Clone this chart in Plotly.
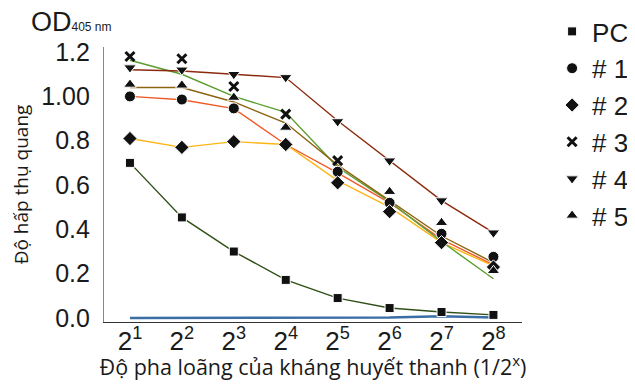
import plotly.graph_objects as go

dilution_x = [1, 2, 3, 4, 5, 6, 7, 8]
x_tick_text = ["2<sup>%d</sup>" % i for i in dilution_x]
y_tick_vals = [0.0, 0.2, 0.4, 0.6, 0.8, 1.0, 1.2]
y_tick_text = ["0.0", "0.2", "0.4", "0.6", "0.8", "1.00", "1.2"]

series_names = ["PC", "# 1", "# 2", "# 3", "# 4", "# 5"]

# line values (as drawn)
pc_line = [0.70, 0.454, 0.30, 0.172, 0.09, 0.045, 0.027, 0.014]
s1_line = [1.00, 0.985, 0.945, 0.783, 0.655, 0.52, 0.355, 0.24]
s2_line = [0.81, 0.77, 0.796, 0.783, 0.62, 0.50, 0.34, 0.235]
s3_line = [1.163, 1.10, 1.00, 0.928, 0.68, 0.525, 0.345, 0.177]
s4_line = [1.12, 1.115, 1.10, 1.085, 0.89, 0.71, 0.53, 0.385]
s5_line = [1.04, 1.04, 0.975, 0.88, 0.69, 0.53, 0.37, 0.25]
blank_line = [0.0, 0.0, 0.0, 0.0, 0.0, 0.002, 0.008, 0.002]

# marker values (as drawn)
pc_marks = [0.70, 0.454, 0.30, 0.172, 0.09, 0.045, 0.027, 0.014]
s1_marks = [1.00, 0.986, 0.946, 0.783, 0.66, 0.52, 0.38, 0.276]
s2_marks = [0.81, 0.77, 0.796, 0.783, 0.61, 0.48, 0.34, 0.23]
s3_marks = [1.18, 1.17, 1.045, 0.92, 0.71, None, None, None]
s4_marks = [1.13, 1.12, 1.10, 1.086, 0.887, 0.71, 0.53, 0.385]
s5_marks = [1.054, 1.05, 0.995, 0.86, None, 0.57, 0.43, 0.213]

line_sets = [pc_line, s1_line, s2_line, s3_line, s4_line, s5_line]
mark_sets = [pc_marks, s1_marks, s2_marks, s3_marks, s4_marks, s5_marks]
colors = ["#2f4f17", "#f05a28", "#fdb515", "#5a9e2f", "#8b2a0e", "#8c6410"]
symbols = ["square", "circle", "diamond", "x-thin-open", "triangle-down", "triangle-up"]
sizes = [9, 11, 11, 9, 11, 11]

fig = go.Figure()

fig.add_trace(go.Scatter(x=dilution_x, y=blank_line, mode="lines",
                         line=dict(color="#3a6ea5", width=2.5), showlegend=False,
                         hoverinfo="skip"))

for ln, col in zip(line_sets, colors):
    fig.add_trace(go.Scatter(x=dilution_x, y=ln, mode="lines",
                             line=dict(color=col, width=1.4), showlegend=False))

for i, (mk, name) in enumerate(zip(mark_sets, series_names)):
    if symbols[i] == "x-thin-open":
        marker = dict(symbol="x-thin-open", size=9, color="#111111",
                      line=dict(color="#111111", width=3))
    else:
        marker = dict(symbol=symbols[i], size=sizes[i], color="#111111",
                      line=dict(color="white", width=1))
    fig.add_trace(go.Scatter(x=dilution_x, y=mk, mode="markers", name=name,
                             marker=marker, cliponaxis=False,
                             legendgroup=name))

# page body has an 8px margin; size the figure so it fits the window exactly
fig.update_layout(
    width=619, height=373,
    margin=dict(l=96, r=105, t=39, b=59, autoexpand=False),
    plot_bgcolor="white", paper_bgcolor="white",
    font=dict(family="Liberation Sans, Arial, sans-serif", color="#1a1a1a"),
    legend=dict(xref="container", yref="container", x=0.879, y=1.02,
                xanchor="left", yanchor="top", maxheight=360,
                font=dict(size=26, color="#1a1a1a"),
                tracegroupgap=0, itemsizing="trace", itemwidth=30,
                bgcolor="rgba(0,0,0,0)"),
    xaxis=dict(range=[0.5, 8.55], tickmode="array", tickvals=dilution_x,
               ticktext=x_tick_text, showgrid=False, zeroline=False,
               showline=True, linecolor="#333333", linewidth=1.2,
               ticks="", tickfont=dict(size=26), ticklabelstandoff=-4,
               title=dict(text="Độ pha loãng của kháng huyết thanh (1/2<sup>x</sup>)",
                          font=dict(size=21.5, family="Open Sans, Liberation Sans, sans-serif"),
                          standoff=9)),
    yaxis=dict(range=[-0.018, 1.223], tickmode="array", tickvals=y_tick_vals,
               ticktext=y_tick_text, showgrid=False, zeroline=False,
               showline=True, linecolor="#888888", linewidth=1.2,
               ticks="", tickfont=dict(size=25), ticklabelstandoff=8,
               title=dict(text="Độ hấp thụ quang",
                          font=dict(size=19, family="Open Sans, Liberation Sans, sans-serif"),
                          standoff=10)),
    annotations=[dict(text="OD<span style='font-size:12px'>405 nm</span>",
                      xref="paper", yref="paper", x=-0.18, y=1.03,
                      xanchor="left", yanchor="bottom", showarrow=False,
                      font=dict(size=27, color="#1a1a1a"))],
)

fig.write_html("out.html")
